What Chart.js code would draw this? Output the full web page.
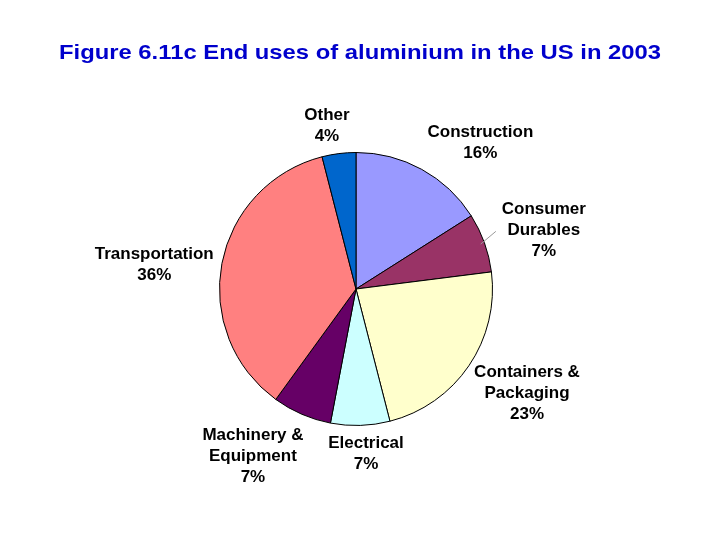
<!DOCTYPE html>
<html>
<head>
<meta charset="utf-8">
<script src="https://cdn.jsdelivr.net/npm/chart.js@4"></script>
<style>
  html, body { margin: 0; padding: 0; background: #fff; }
  #wrap { width: 720px; height: 540px; }
</style>
</head>
<body>
<div id="wrap"><canvas id="pie" width="720" height="540"></canvas></div>
<script>
// ===== DATA =====
const titleText = 'Figure 6.11c End uses of aluminium in the US in 2003';
const categories = ['Construction', 'Consumer Durables', 'Containers & Packaging', 'Electrical', 'Machinery & Equipment', 'Transportation', 'Other'];
const shares = [16, 7, 23, 7, 7, 36, 4];
const labelLines = [['Construction'], ['Consumer', 'Durables'], ['Containers &', 'Packaging'], ['Electrical'], ['Machinery &', 'Equipment'], ['Transportation'], ['Other']];
const sliceColors = ['#9999FF', '#993366', '#FFFFCC', '#CCFFFF', '#660066', '#FF8080', '#0066CC'];

// label anchor: angle (deg clockwise from top) and extra distance beyond the rim
const labelAngle = [40, 72, 121, 176.5, 212, 277.5, 350];
const labelGap = [57, 61, 63, 27, 58, 67, 31];

const FONT = '"Liberation Sans", Arial, sans-serif';

// title + outside labels (and the one leader line)
const outsideLabels = {
  id: 'outsideLabels',
  afterDatasetsDraw(chart) {
    const ctx = chart.ctx;
    ctx.save();
    ctx.textAlign = 'center';
    ctx.textBaseline = 'middle';

    // title, stretched a bit wider like the original
    ctx.font = 'bold 21px ' + FONT;
    ctx.fillStyle = '#0000CC';
    const tw = ctx.measureText(titleText).width;
    const sx = 602 / tw;
    ctx.save();
    ctx.translate(360, 53);
    ctx.scale(sx, 1);
    ctx.fillText(titleText, 0, 0);
    ctx.restore();

    const arcs = chart.getDatasetMeta(0).data;
    const cx = arcs[0].x, cy = arcs[0].y, r = arcs[0].outerRadius;
    ctx.font = 'bold 17px ' + FONT;
    ctx.fillStyle = '#000';
    const lh = 21;
    categories.forEach((c, i) => {
      const a = (labelAngle[i] - 90) * Math.PI / 180;
      const d = r + labelGap[i];
      const x = cx + Math.cos(a) * d;
      const y = cy + Math.sin(a) * d + 2;
      const lines = labelLines[i].concat([shares[i] + '%']);
      const top = y - (lines.length - 1) * lh / 2;
      lines.forEach((t, k) => ctx.fillText(t, x, top + k * lh));
    });

    // leader line for Consumer Durables
    const arc = arcs[1];
    const mid = (arc.startAngle + arc.endAngle) / 2;
    ctx.strokeStyle = '#999';
    ctx.lineWidth = 1;
    ctx.beginPath();
    ctx.moveTo(cx + Math.cos(mid) * (r - 4), cy + Math.sin(mid) * (r - 4));
    ctx.lineTo(cx + Math.cos(mid) * (r + 10) + 2, cy + Math.sin(mid) * (r + 10) - 8);
    ctx.stroke();
    ctx.restore();
  }
};

new Chart(document.getElementById('pie'), {
  type: 'pie',
  data: {
    labels: categories,
    datasets: [{
      data: shares,
      backgroundColor: sliceColors,
      borderColor: '#000',
      borderWidth: 1
    }]
  },
  options: {
    responsive: false,
    animation: false,
    layout: { padding: { left: 219, right: 227, top: 152, bottom: 114 } },
    plugins: {
      legend: { display: false },
      tooltip: { enabled: false },
      title: { display: false }
    }
  },
  plugins: [outsideLabels]
});
</script>
</body>
</html>
